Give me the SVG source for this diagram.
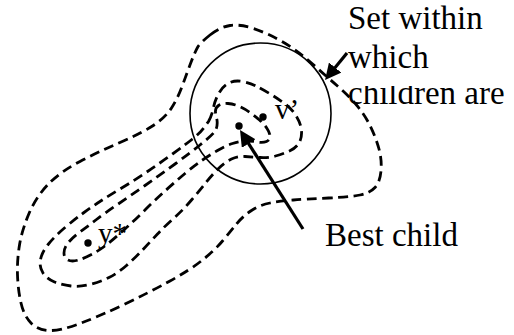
<svg xmlns="http://www.w3.org/2000/svg" width="514" height="335" viewBox="0 0 514 335">
<style>
.contour{fill:none;stroke:#000;stroke-width:2.8;stroke-dasharray:10 5.5}
.ring{fill:none;stroke:#000;stroke-width:1.6}
.pt{fill:#000}
.arrow{fill:none;stroke:#000;stroke-width:3.2}
.lbl{font-family:"Liberation Serif","Times New Roman",serif;font-size:33px;fill:#000}
.sym{font-family:"Liberation Serif","Times New Roman",serif;font-size:29px;fill:#000}
</style>
<defs>
<marker id="ah" markerUnits="userSpaceOnUse" markerWidth="18" markerHeight="16" refX="8" refY="8" orient="auto"><path d="M0,0 L16,8 L0,16 Z" fill="#000"/></marker>
<clipPath id="clipLast"><rect x="340" y="86" width="174" height="30"/></clipPath>
</defs>
<rect width="514" height="335" fill="#fff"/>
<g id="contours">
<path id="c1" class="contour" d="M210,35 Q220,27 230,25.5 Q240,24 253.5,28.5 Q267,33 282,41.5 Q297,50 312,63.5 Q327,77 337.5,86 Q348,95 356.5,105 Q365,115 370.5,126.5 Q376,138 379,149 Q382,160 381,171 Q380,182 375,187.5 Q370,193 360,195 Q350,197 328.5,198 Q307,199 293.5,200 Q280,201 270,203 Q260,205 251.5,210.5 Q243,216 236.5,224 Q230,232 222.5,241 Q215,250 202.5,260 Q190,270 170,281 Q150,292 125,304 Q100,316 80,323.5 Q60,331 49,330.5 Q38,330 31,323 Q24,316 21,303 Q18,290 17.5,275 Q17,260 19.5,245 Q22,230 29,213.5 Q36,197 48,184.5 Q60,172 80,161.5 Q100,151 120,142.5 Q140,134 152.5,126 Q165,118 171.5,108 Q178,98 183,84 Q188,70 191.5,61 Q195,52 197.5,47.5 Q200,43 210,35 Z"/>
<path id="c2" class="contour" d="M208.5,121.5 Q212,115 213.5,107.5 Q215,100 219,93 Q223,86 229,83 Q235,80 242.5,81.5 Q250,83 256,86 Q262,89 269.5,93.5 Q277,98 284.5,103.5 Q292,109 296.5,116.5 Q301,124 301.5,131 Q302,138 299,143 Q296,148 289.5,151 Q283,154 275.5,156 Q268,158 260,157.5 Q252,157 245,156.5 Q238,156 231.5,159 Q225,162 218.5,168.5 Q212,175 206,182.5 Q200,190 191.5,200 Q183,210 174,218 Q165,226 157.5,234 Q150,242 142.5,250 Q135,258 126.5,265.5 Q118,273 109,277.5 Q100,282 90,284.5 Q80,287 71,286 Q62,285 54.5,282 Q47,279 43,273 Q39,267 40.5,259.5 Q42,252 48.5,244 Q55,236 65,227.5 Q75,219 84,212.5 Q93,206 101.5,200.5 Q110,195 122.5,187.5 Q135,180 147.5,171.5 Q160,163 172.5,154 Q185,145 192.5,139 Q200,133 204.25,127.25 Z"/>
<path id="c3" class="contour" d="M215.5,112.5 Q215,108 218.5,105.5 Q222,103 228,103.5 Q234,104 239.5,106.5 Q245,109 250,112.5 Q255,116 259.5,120 Q264,124 267,128.5 Q270,133 270,136.5 Q270,140 266.5,141.5 Q263,143 257.5,142 Q252,141 246,141 Q240,141 232.5,143.5 Q225,146 217.5,150.5 Q210,155 202.5,160 Q195,165 185,173.5 Q175,182 165,191 Q155,200 145,210 Q135,220 125,229 Q115,238 107.5,244 Q100,250 92.5,254 Q85,258 78.5,260 Q72,262 68,260 Q64,258 64,253 Q64,248 68,243 Q72,238 80,232 Q88,226 96.5,219.5 Q105,213 117.5,204.5 Q130,196 145,185.5 Q160,175 175,164 Q190,153 200,145 Q210,137 214,132.5 Q218,128 217,120 Q216,117 215.5,112.5 Z"/>
</g>
<circle id="neighbourhood" class="ring" cx="260.5" cy="113.5" r="70.5"/>
<g id="points">
<circle id="best" class="pt" cx="239" cy="126" r="3.7"/>
<circle id="vprime" class="pt" cx="263" cy="117" r="3.7"/>
<circle id="ystar" class="pt" cx="88" cy="243" r="3.7"/>
</g>
<g id="connectors">
<line class="arrow" x1="303" y1="229" x2="244.3" y2="136.8" marker-end="url(#ah)"/>
<line class="arrow" x1="347" y1="53" x2="330.1" y2="73.8" marker-end="url(#ah)"/>
</g>
<g id="labels">
<text class="sym" x="275" y="119">v’</text>
<text class="sym" x="98" y="243">y*</text>
<text class="lbl" x="348" y="29">Set within</text>
<text class="lbl" x="348" y="68">which</text>
<text class="lbl" x="348" y="104" clip-path="url(#clipLast)">children are</text>
<text class="lbl" x="325" y="246">Best child</text>
</g>
</svg>
